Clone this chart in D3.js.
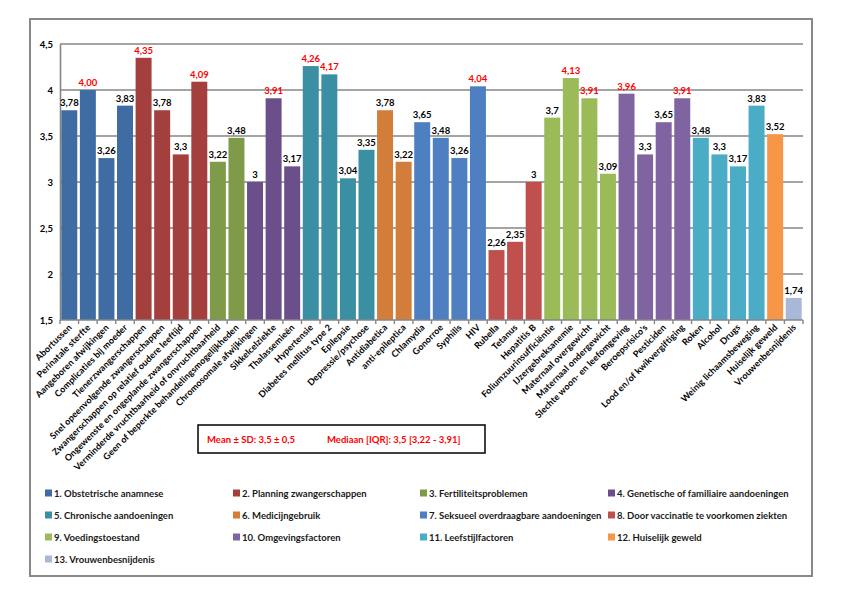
<!DOCTYPE html>
<html><head><meta charset="utf-8">
<script src="https://cdn.jsdelivr.net/npm/d3@7"></script>
<style>
html,body{margin:0;padding:0;background:#fff;}
text{font-family:Lato,"Open Sans",sans-serif;}
</style></head>
<body>
<svg id="c" width="842" height="595"></svg>
<script>
const categories = ["Abortussen","Perinatale sterfte","Aangeboren afwijkingen","Complicaties bij moeder",
"Tienerzwangerschappen","Snel opeenvolgende zwangerschappen","Zwangerschappen op relatief oudere leeftijd","Ongewenste en ongeplande zwangerschappen",
"Verminderde vruchtbaarheid of onvruchtbaarheid","Geen of beperkte behandelingsmogelijkheden",
"Chromosomale afwijkingen","Sikkelcelziekte","Thalassemieën",
"Hypertensie","Diabetes mellitus type 2","Epilepsie","Depressie/psychose",
"Antidiabetica","anti-epileptica",
"Chlamydia","Gonorroe","Syphilis","HIV",
"Rubella","Tetanus","Hepatitis B",
"Foliumzuurinsufficiëntie","IJzergebreksanemie","Maternaal overgewicht","Maternaal ondergewicht",
"Slechte woon- en leefomgeving","Beroepsrisico's","Pesticiden","Lood en/of kwikvergiftiging",
"Roken","Alcohol","Drugs","Weinig lichaamsbeweging",
"Huiselijk geweld","Vrouwenbesnijdenis"];
const values = [3.78,4.00,3.26,3.83, 4.35,3.78,3.3,4.09, 3.22,3.48, 3,3.91,3.17, 4.26,4.17,3.04,3.35,
3.78,3.22, 3.65,3.48,3.26,4.04, 2.26,2.35,3, 3.7,4.13,3.91,3.09, 3.96,3.3,3.65,3.91, 3.48,3.3,3.17,3.83, 3.52,1.74];
const valueLabels = ["3,78","4,00","3,26","3,83","4,35","3,78","3,3","4,09","3,22","3,48","3","3,91","3,17",
"4,26","4,17","3,04","3,35","3,78","3,22","3,65","3,48","3,26","4,04","2,26","2,35","3","3,7","4,13","3,91","3,09",
"3,96","3,3","3,65","3,91","3,48","3,3","3,17","3,83","3,52","1,74"];
const groupOfBar = [0,0,0,0, 1,1,1,1, 2,2, 3,3,3, 4,4,4,4, 5,5, 6,6,6,6, 7,7,7, 8,8,8,8, 9,9,9,9, 10,10,10,10, 11, 12];
const groupNames = ["1. Obstetrische anamnese","2. Planning zwangerschappen","3. Fertiliteitsproblemen","4. Genetische of familiaire aandoeningen",
"5. Chronische aandoeningen","6. Medicijngebruik","7. Seksueel overdraagbare aandoeningen","8. Door vaccinatie te voorkomen ziekten",
"9. Voedingstoestand","10. Omgevingsfactoren","11. Leefstijlfactoren","12. Huiselijk geweld","13. Vrouwenbesnijdenis"];
const groupColors = ["#3F6CA2","#A3403E","#7F9A48","#6A4F8A","#3A8FA3","#D27D3A","#4E7FC0","#C0504D","#9BBB59","#8064A2","#4BACC6","#F79646","#A9B8D8"];
const yTicks = [1.5,2,2.5,3,3.5,4,4.5];
const yTickLabels = ["1,5","2","2,5","3","3,5","4","4,5"];
const highlightThreshold = 3.91;
const statsText = ["Mean ± SD: 3,5 ± 0,5","Mediaan [IQR]: 3,5 [3,22 - 3,91]"];

(function(){
const svg = d3.select("#c");
svg.append("rect").attr("x",30).attr("y",19).attr("width",782).attr("height",557)
  .attr("fill","#fff").attr("stroke","#888").attr("stroke-width",2);

const pL=60, pR=803, pT=44, pB=320;
const x = d3.scaleBand().domain(categories).range([pL,pR]).paddingInner(0.14).paddingOuter(0.07);
const y = d3.scaleLinear().domain([1.5,4.5]).range([pB,pT]);

svg.append("g").selectAll("line").data(yTicks.slice(1)).join("line")
  .attr("x1",pL).attr("x2",pR).attr("y1",d=>y(d)).attr("y2",d=>y(d))
  .attr("stroke","#868686").attr("stroke-width",1.6);

const yAxis = d3.axisLeft(y).tickValues(yTicks).tickSize(0).tickPadding(7)
  .tickFormat((d,i)=>yTickLabels[i]);
const gy = svg.append("g").attr("transform",`translate(${pL},0)`).call(yAxis);
gy.select(".domain").attr("stroke","#868686").attr("stroke-width",1.6);
gy.selectAll("text").attr("font-size",9.5).attr("font-weight","bold").attr("fill","#000")
  .attr("font-family","Lato,'Open Sans',sans-serif");

svg.append("g").selectAll("rect").data(categories).join("rect")
  .attr("x",d=>x(d)).attr("width",x.bandwidth())
  .attr("y",(d,i)=>y(values[i])).attr("height",(d,i)=>y(1.5)-y(values[i]))
  .attr("fill",(d,i)=>groupColors[groupOfBar[i]]);

const xAxisG = svg.append("g").attr("transform",`translate(0,${pB})`);
xAxisG.append("line").attr("x1",pL).attr("x2",pR).attr("stroke","#868686").attr("stroke-width",1.6);
const step = x.step();
const tickPos = d3.range(categories.length+1).map(i=>pL + x.paddingOuter()*step - x.paddingInner()*step/2 + i*step);
xAxisG.selectAll("line.t").data(tickPos).join("line").attr("class","t")
  .attr("x1",d=>d).attr("x2",d=>d).attr("y1",0).attr("y2",4)
  .attr("stroke","#868686").attr("stroke-width",1.4);

svg.append("g").selectAll("text").data(categories).join("text")
  .attr("transform",d=>`translate(${x(d)+x.bandwidth()/2+3},${pB+8}) rotate(-45)`)
  .attr("text-anchor","end").attr("font-size",9).attr("font-weight","bold")
  .attr("letter-spacing",0.1).attr("fill","#000").text(d=>d);

svg.append("g").selectAll("text").data(categories).join("text")
  .attr("x",d=>x(d)+x.bandwidth()/2).attr("y",(d,i)=>y(values[i])-4)
  .attr("text-anchor","middle").attr("font-size",9.5).attr("font-weight","bold")
  .attr("fill",(d,i)=>values[i]>=highlightThreshold?"#FF0000":"#000")
  .text((d,i)=>valueLabels[i]);

svg.append("rect").attr("x",198).attr("y",425).attr("width",287).attr("height",28)
  .attr("fill","none").attr("stroke","#000").attr("stroke-width",1.5);
svg.append("text").attr("x",207).attr("y",443).attr("font-size",9.5).attr("font-weight","bold")
  .attr("fill","#FF0000").text(statsText[0]);
svg.append("text").attr("x",327).attr("y",443).attr("font-size",9.5).attr("font-weight","bold")
  .attr("fill","#FF0000").text(statsText[1]);

const colX=[45,233,420,608], rowY=[493,515,537,559];
const lg = svg.append("g").selectAll("g").data(groupNames).join("g")
  .attr("transform",(d,i)=>`translate(${colX[i%4]},${rowY[Math.floor(i/4)]})`);
lg.append("rect").attr("x",0).attr("y",-3.5).attr("width",7).attr("height",7).attr("fill",(d,i)=>groupColors[i]);
lg.append("text").attr("x",9).attr("y",3.5).attr("font-size",9.5).attr("font-weight","bold")
  .attr("fill","#1a1a1a").text(d=>d);
})();
</script>
</body></html>
